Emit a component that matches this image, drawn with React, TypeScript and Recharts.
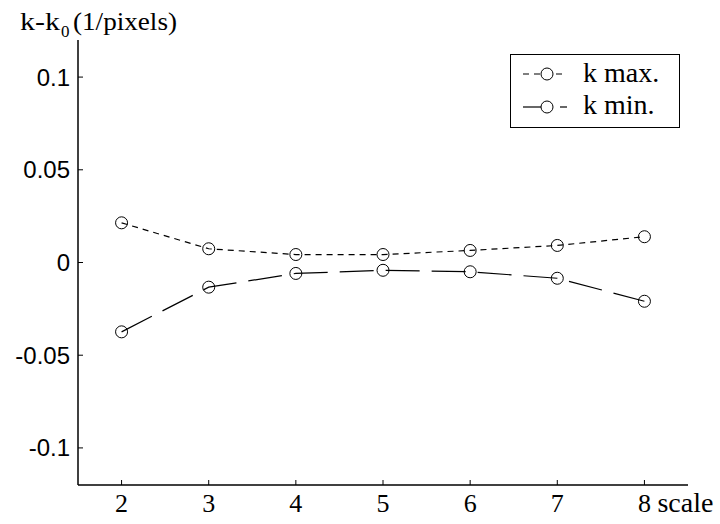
import React from 'react';
import { LineChart, Line, XAxis, YAxis, Legend } from 'recharts';

const scales = [2, 3, 4, 5, 6, 7, 8];
const kMax = [0.0214, 0.0074, 0.0043, 0.0043, 0.0065, 0.0092, 0.0139];
const kMin = [-0.0374, -0.0133, -0.0059, -0.0042, -0.005, -0.0085, -0.0209];
const xTicks = [2, 3, 4, 5, 6, 7, 8];
const yTicks = [-0.1, -0.05, 0, 0.05, 0.1];
const seriesNames = ['k max.', 'k min.'];

const data = scales.map((s, i) => ({ scale: s, kMax: kMax[i], kMin: kMin[i] }));

const SERIF = "'Liberation Serif'";
const SANS = "'Liberation Sans'";

const XTick = (props: any) => {
  const { x, y, payload } = props;
  const isLast = payload.value === xTicks[xTicks.length - 1];
  return (
    <g>
      <text x={x} y={y} dy={22} textAnchor="middle" style={{ fontFamily: SERIF, fontSize: 26 }} fill="#000">
        {payload.value}
      </text>
      {isLast && (
        <text x={x + 13} y={y} dy={22} textAnchor="start" style={{ fontFamily: SERIF, fontSize: 28 }} fill="#000">
          scale
        </text>
      )}
    </g>
  );
};

const YTick = (props: any) => {
  const { x, y, payload } = props;
  return (
    <text x={x} y={y} dy={8.5} textAnchor="end" style={{ fontFamily: SANS, fontSize: 24 }} fill="#000">
      {String(payload.value)}
    </text>
  );
};

const LegendBox = () => (
  <svg width={170} height={74} style={{ display: 'block' }}>
    <rect x={0.5} y={0.5} width={169} height={73} fill="#fff" stroke="#000" strokeWidth={1} />
    <line x1={13} y1={20} x2={57} y2={20} stroke="#000" strokeWidth={1.2} strokeDasharray="6 5" />
    <circle cx={37} cy={20} r={6} fill="#fff" stroke="#000" strokeWidth={1} />
    <text x={73} y={28} style={{ fontFamily: SERIF, fontSize: 28 }} fill="#000">{seriesNames[0]}</text>
    <line x1={13} y1={53} x2={37} y2={53} stroke="#000" strokeWidth={1.2} />
    <line x1={50} y1={53} x2={57} y2={53} stroke="#000" strokeWidth={1.2} />
    <circle cx={37} cy={53} r={6} fill="#fff" stroke="#000" strokeWidth={1} />
    <text x={73} y={60} style={{ fontFamily: SERIF, fontSize: 28 }} fill="#000">{seriesNames[1]}</text>
  </svg>
);

export default function App() {
  return (
    <div style={{ position: 'absolute', left: 0, top: 0, width: 720, height: 524, background: '#fff' }}>
      <LineChart
        width={720}
        height={524}
        data={data}
        margin={{ top: 40, right: 32, bottom: 0, left: 0 }}
      >
        <XAxis
          dataKey="scale"
          type="number"
          domain={[1.5, 8.5]}
          ticks={xTicks}
          height={39}
          tickSize={-5}
          tickMargin={10}
          tick={<XTick />}
          axisLine={{ stroke: '#000', strokeWidth: 1.5 }}
          tickLine={{ stroke: '#000', strokeWidth: 1 }}
          allowDataOverflow
        />
        <YAxis
          type="number"
          domain={[-0.12, 0.12]}
          ticks={yTicks}
          width={78}
          tickSize={-5}
          tickMargin={13}
          tick={<YTick />}
          axisLine={{ stroke: '#000', strokeWidth: 1.5 }}
          tickLine={{ stroke: '#000', strokeWidth: 1 }}
          allowDataOverflow
        />
        <Legend
          layout="vertical"
          align="center"
          verticalAlign="middle"
          content={<LegendBox />}
          wrapperStyle={{ left: 510, top: 54, width: 170, height: 74, bottom: 'auto', right: 'auto' }}
        />
        <Line
          dataKey="kMax"
          name={seriesNames[0]}
          stroke="#000"
          strokeWidth={1.2}
          strokeDasharray="6 5"
          dot={{ r: 6, fill: 'none', stroke: '#000', strokeWidth: 1, strokeDasharray: 'none' }}
          isAnimationActive={false}
          type="linear"
        />
        <Line
          dataKey="kMin"
          name={seriesNames[1]}
          stroke="#000"
          strokeWidth={1.2}
          strokeDasharray="34 12"
          dot={{ r: 6, fill: 'none', stroke: '#000', strokeWidth: 1, strokeDasharray: 'none' }}
          isAnimationActive={false}
          type="linear"
        />
      </LineChart>
      <svg width={720} height={60} style={{ position: 'absolute', left: 0, top: 0, pointerEvents: 'none' }}>
        <text x={20} y={30} style={{ fontFamily: SERIF, fontSize: 26 }} fill="#000" textLength={40} lengthAdjust="spacingAndGlyphs">
          k-k
        </text>
        <text x={61} y={37} style={{ fontFamily: SERIF, fontSize: 17 }} fill="#000">0</text>
        <text x={73} y={30} style={{ fontFamily: SERIF, fontSize: 26 }} fill="#000" textLength={104} lengthAdjust="spacingAndGlyphs">
          (1/pixels)
        </text>
      </svg>
    </div>
  );
}
